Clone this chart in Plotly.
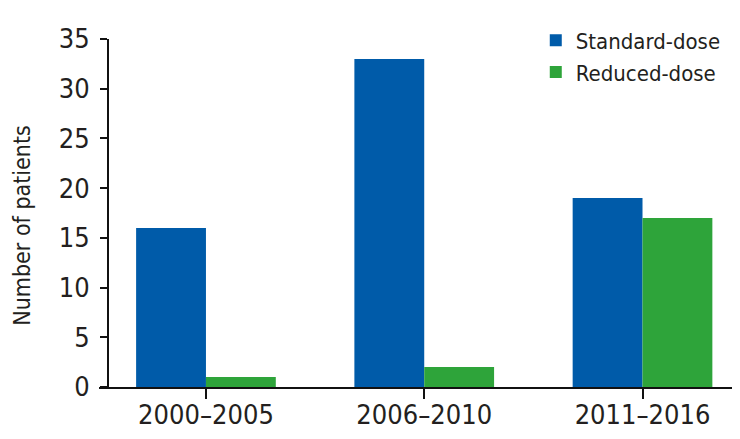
import plotly.graph_objects as go

periods = ["2000–2005", "2006–2010", "2011–2016"]
standard_dose = [16, 33, 19]
reduced_dose = [1, 2, 17]

FONT = "Liberation Sans Narrow, DejaVu Sans Condensed, Arial Narrow, sans-serif"
TEXT = "#231f20"

fig = go.Figure()
fig.add_trace(go.Bar(x=periods, y=standard_dose, name="Standard-dose",
                     marker_color="#005ba9", marker_line_width=0))
fig.add_trace(go.Bar(x=periods, y=reduced_dose, name="Reduced-dose",
                     marker_color="#2ea43a", marker_line_width=0))

# page body has an 8px margin, so the figure is a bit smaller than the window
fig.update_layout(
    width=732, height=431,
    margin=dict(l=91, r=8, t=31, b=52, autoexpand=False),
    plot_bgcolor="white", paper_bgcolor="white",
    barmode="group", bargap=0.36, bargroupgap=0,
    font=dict(family=FONT, color=TEXT, size=24),
    legend=dict(x=0.69, y=1.056, xanchor="left", yanchor="top",
                font=dict(size=22), tracegroupgap=0, itemwidth=30,
                bgcolor="rgba(0,0,0,0)"),
    showlegend=True,
)

fig.update_xaxes(
    range=[-0.49, 2.41], showline=True, linecolor="#111", linewidth=1.5,
    ticks="outside", ticklen=10, tickwidth=1.5, tickcolor="#111",
    showgrid=False, tickfont=dict(size=27), ticklabelstandoff=-7,
)

fig.update_yaxes(
    range=[0, 35], dtick=5, showline=True, linecolor="#111", linewidth=1.5,
    ticks="outside", ticklen=7, tickwidth=1.5, tickcolor="#111",
    showgrid=False, zeroline=False, anchor="free", position=0.014,
    ticklabelstandoff=5, tickfont=dict(size=27),
)

# y title sits a little below the plot's middle in the original
fig.add_annotation(
    text="Number of patients", textangle=-90, showarrow=False,
    xref="paper", yref="paper", x=-0.122, y=0.4655,
    xanchor="center", yanchor="middle", font=dict(size=23),
)

fig.write_html("out.html")
